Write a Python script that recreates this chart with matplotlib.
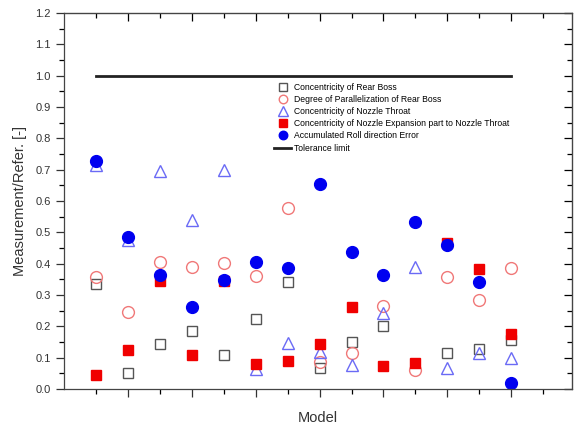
import matplotlib.pyplot as plt
import numpy as np

plt.rcParams['font.family'] = ['Liberation Sans', 'DejaVu Sans']

# Model index 1..14
models = np.arange(1, 15)

rear_boss_conc = [0.335, 0.051, 0.145, 0.186, 0.110, 0.222, 0.340, 0.066, 0.150, 0.201, np.nan, 0.114, 0.129, 0.156]
rear_boss_par = [0.358, 0.246, 0.406, 0.390, 0.403, 0.360, 0.577, 0.087, 0.114, 0.265, 0.061, 0.357, 0.283, 0.386]
nozzle_throat = [0.716, 0.477, 0.697, 0.539, 0.699, 0.063, 0.148, 0.119, 0.077, 0.242, 0.390, 0.066, 0.116, 0.098]
nozzle_expansion = [0.045, 0.124, 0.345, 0.108, 0.345, 0.079, 0.090, 0.144, 0.261, 0.074, 0.084, 0.467, 0.384, 0.175]
roll_error = [0.728, 0.486, 0.364, 0.262, 0.347, 0.406, 0.387, 0.654, 0.436, 0.364, 0.532, 0.460, 0.343, 0.020]

tolerance_x = [1, 14]
tolerance_y = [1.0, 1.0]

fig = plt.figure(figsize=(5.74, 4.28), dpi=100)
ax = fig.add_axes([0.1115, 0.0911, 0.885, 0.8785])

ms = 8.5
ax.plot(models, rear_boss_conc, 's', ms=ms * 0.9, mfc='none', mec='#555555', mew=1.0,
        label='Concentricity of Rear Boss')
ax.plot(models, rear_boss_par, 'o', ms=ms, mfc='none', mec='#f07878', mew=1.0,
        label='Degree of Parallelization of Rear Boss')
ax.plot(models, nozzle_throat, '^', ms=ms * 1.1, mfc='none', mec='#6a6af5', mew=1.0,
        label='Concentricity of Nozzle Throat')
ax.plot(models, nozzle_expansion, 's', ms=ms * 0.9, mfc='#f00000', mec='#f00000',
        label='Concentricity of Nozzle Expansion part to Nozzle Throat')
ax.plot(models, roll_error, 'o', ms=ms, mfc='#0000f0', mec='#0000f0',
        label='Accumulated Roll direction Error')
ax.plot(tolerance_x, tolerance_y, '-', color='#222222', lw=2,
        label='Tolerance limit')

ax.set_xlim(0, 15.9)
ax.set_ylim(0, 1.2)
ax.set_xticks(np.arange(2, 16, 2))
ax.set_xticks(np.arange(1, 16, 2), minor=True)
ax.set_xticklabels([])
ax.set_yticks(np.arange(0, 1.21, 0.1))
ax.set_yticks(np.arange(0.05, 1.2, 0.1), minor=True)
ax.set_yticklabels(['%.1f' % v for v in np.arange(0, 1.21, 0.1)])
ax.tick_params(which='major', direction='out', length=6, width=0.9, labelsize=8, colors='#333333')
ax.tick_params(which='minor', direction='out', length=3.5, width=0.9)

for sp in ax.spines.values():
    sp.set_color('#444444')
    sp.set_linewidth(0.9)

# mirrored ticks on top/right pointing inward
top = ax.secondary_xaxis('top')
top.set_xticks(np.arange(2, 16, 2))
top.set_xticks(np.arange(1, 16, 2), minor=True)
top.tick_params(which='major', direction='in', length=6, width=0.9, labeltop=False)
top.tick_params(which='minor', direction='in', length=3.5, width=0.9)
right = ax.secondary_yaxis('right')
right.set_yticks(np.arange(0, 1.21, 0.1))
right.set_yticks(np.arange(0.05, 1.2, 0.1), minor=True)
right.tick_params(which='major', direction='in', length=6, width=0.9, labelright=False)
right.tick_params(which='minor', direction='in', length=3.5, width=0.9)

ax.set_xlabel('Model', fontsize=10.5, color='#333333', labelpad=6)
ax.set_ylabel('Measurement/Refer. [-]', fontsize=10.5, color='#333333', labelpad=6)

ax.legend(loc='upper left', bbox_to_anchor=(268 / 574, 1 - 77 / 428),
          bbox_transform=fig.transFigure, frameon=False, fontsize=6.2,
          markerscale=0.72, handlelength=2.0, handletextpad=0.3,
          labelspacing=0.36, borderpad=0.2)

fig.savefig('out.png', dpi=100)
